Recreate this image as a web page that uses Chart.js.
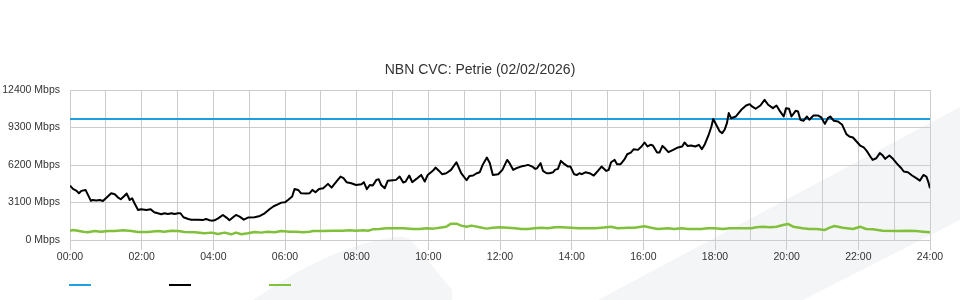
<!DOCTYPE html>
<html>
<head>
<meta charset="utf-8">
<title>NBN CVC: Petrie</title>
<script src="https://cdn.jsdelivr.net/npm/chart.js@4/dist/chart.umd.min.js"></script>
<style>
  html, body { margin: 0; padding: 0; background: #fff; }
  #wrap { position: relative; width: 960px; height: 300px; overflow: hidden; }
  #bg { position: absolute; left: 0; top: 0; }
  #chart { position: absolute; left: 0; top: 0; }
  .key { position: absolute; top: 284px; width: 22px; height: 2px; }
</style>
</head>
<body>
<div id="wrap">
  <svg id="bg" width="960" height="300">
    <path d="M253,300 Q330,246 395,237 Q410,235 416,246 L452,290 L452,300 Z" fill="#f4f5f7"/>
    <polygon points="598,300 960,107 960,220 803,300" fill="#f4f5f7"/>
  </svg>
  <canvas id="chart" width="960" height="300"></canvas>
  <div class="key" style="left:69px;background:#1e9fe0"></div>
  <div class="key" style="left:169px;background:#000"></div>
  <div class="key" style="left:269px;background:#80c03a"></div>
</div>
<script>
// capacidad CVC (Mbps), linea plana
const capTimes = [0, 1440];
const capValues = [10000, 10000];

// trafico de bajada (minutos desde 00:00, Mbps)
const downTimes = [
  0, 5, 11, 15, 19, 26, 35, 38, 44, 50, 55, 61, 69, 75, 80, 85, 90, 95, 100, 104,
  108, 114, 119, 128, 135, 141, 147, 153, 158, 164, 170, 175, 181, 185, 190, 198, 203, 214, 223, 228,
  232, 237, 242, 248, 256, 262, 267, 273, 278, 284, 291, 298, 309, 318, 326, 334, 341, 348, 354,
  360, 365, 372, 376, 382, 387, 396, 401, 406, 411, 417, 424, 432, 438, 446, 453, 458, 463, 471, 479,
  488, 492, 497, 502, 507, 513, 517, 521, 527, 532, 541, 546, 552, 558, 562, 568, 573, 580, 588, 594,
  599, 608, 612, 618, 623, 630, 638, 647, 655, 664, 669, 675, 681, 686, 691, 698, 703, 708, 717, 724,
  732, 736, 742, 747, 755, 761, 767, 774, 779, 782, 788, 792, 798, 803, 809, 812, 817, 822, 828, 834,
  838, 844, 849, 853, 857, 863, 870, 877, 884, 890, 898, 902, 906, 912, 916, 922, 929, 933, 939, 944,
  951, 957, 962, 967, 972, 976, 983, 987, 992, 997, 1002, 1010, 1018, 1025, 1029, 1034, 1040, 1047, 1053, 1058,
  1063, 1069, 1074, 1077, 1088, 1092, 1096, 1100, 1103, 1107, 1115, 1124, 1132, 1138, 1142, 1148, 1156, 1163, 1169, 1177,
  1183, 1189, 1195, 1199, 1204, 1208, 1215, 1219, 1223, 1228, 1234, 1238, 1245, 1252, 1258, 1264, 1269, 1273, 1279, 1286,
  1293, 1300, 1305, 1311, 1317, 1323, 1329, 1334, 1340, 1344, 1350, 1356, 1361, 1365, 1372, 1377, 1385, 1392, 1396, 1403,
  1410, 1417, 1423, 1429, 1434, 1437, 1440
];
const downValues = [
  4500, 4220, 4060, 3860, 4060, 4140, 3230, 3310, 3260, 3310, 3230, 3500, 3860, 3780, 3530, 3370, 3590, 3840, 3310, 3450,
  3040, 2480, 2540, 2480, 2540, 2290, 2210, 2130, 2210, 2150, 2210, 2150, 2210, 2210, 1880, 1740, 1680, 1680, 1660, 1740,
  1660, 1600, 1630, 1790, 2070, 1850, 1630, 1880, 2070, 1930, 1680, 1850, 1880, 1990, 2210, 2540, 2790, 2950, 3090,
  3120, 3310, 3590, 4220, 4140, 3860, 3840, 3860, 4140, 3950, 4220, 4280, 4640, 4330, 4830, 5240, 5110, 4780, 4690, 4550,
  4610, 4780, 4200, 4550, 4500, 4970, 5020, 4550, 4280, 4890, 4940, 4970, 5240, 4750, 4830, 5330, 4780, 5050, 5380, 4830,
  5380, 5740, 5990, 5710, 5440, 5520, 5800, 6430, 5520, 4940, 5300, 5330, 5520, 5600, 6210, 6820, 6350, 5380, 5440, 5800,
  6620, 6350, 5800, 5930, 6070, 6130, 6210, 6070, 5880, 5930, 6350, 5710, 5520, 5520, 5600, 5800, 5880, 6540, 6270, 6070,
  6070, 5440, 5380, 5520, 5440, 5600, 5520, 5330, 5710, 6070, 5710, 5800, 6430, 6620, 6270, 6270, 6710, 7090, 7230, 7510,
  7450, 7730, 8060, 7730, 7870, 7810, 7230, 7230, 7780, 7540, 7260, 7450, 7650, 7730, 8060, 7780, 7810, 7730, 7870, 7510,
  7920, 8640, 9380, 10000, 8970, 8830, 9110, 9660, 10490, 10070, 10210, 10760, 11120, 11230, 11040, 10850, 11120, 11590, 11180, 10900,
  11120, 10630, 10210, 10900, 10850, 10210, 10680, 10630, 9940, 9850, 10210, 9940, 10300, 10300, 10130, 9600, 10070, 10210, 9850, 9800,
  9520, 8750, 8560, 8470, 8140, 7810, 7650, 7370, 6900, 6620, 6760, 7180, 6980, 6710, 6980, 6760, 6290, 5930, 5660, 5600,
  5330, 5110, 4910, 5380, 5240, 4830, 4280
];

// trafico de subida (minutos desde 00:00, Mbps)
const upTimes = [
  0, 5, 13, 22, 30, 41, 52, 64, 75, 89, 103, 114, 131, 147, 158, 170, 181, 192, 209, 225,
  237, 248, 259, 270, 278, 287, 298, 309, 320, 331, 343, 354, 368, 379, 390, 401, 407, 424, 440, 457,
  468, 479, 491, 499, 507, 518, 530, 541, 558, 574, 585, 597, 608, 619, 630, 638, 647, 655, 664, 672,
  686, 697, 708, 719, 733, 745, 756, 767, 778, 789, 800, 812, 823, 839, 851, 867, 878, 890, 906, 917,
  934, 945, 962, 973, 984, 1001, 1012, 1024, 1035, 1046, 1057, 1068, 1080, 1093, 1105, 1127, 1141, 1149, 1160, 1172,
  1183, 1194, 1202, 1211, 1227, 1238, 1250, 1264, 1272, 1280, 1294, 1311, 1323, 1333, 1344, 1361, 1384, 1406, 1417, 1428,
  1440
];
const upValues = [
  770, 830, 770, 690, 635, 745, 690, 745, 745, 800, 745, 660, 660, 745, 690, 770, 745, 660, 635, 550,
  610, 500, 610, 470, 610, 470, 550, 660, 610, 690, 635, 745, 690, 690, 635, 690, 745, 745, 770, 770,
  800, 770, 800, 770, 880, 910, 970, 970, 970, 910, 910, 970, 940, 1020, 1100, 1350, 1350, 1190, 1100, 1190,
  1050, 940, 1020, 1050, 1020, 970, 910, 910, 970, 1020, 970, 1050, 1050, 1020, 970, 970, 970, 1020, 1100, 970,
  1020, 1020, 1130, 1020, 910, 970, 910, 970, 910, 910, 910, 970, 970, 910, 970, 970, 970, 1050, 1100, 1050,
  1100, 1240, 1330, 1100, 970, 910, 910, 830, 1020, 1160, 1020, 910, 1100, 910, 880, 770, 745, 770, 745, 690,
  635
];

// eje Y
const yTicks = [0, 3100, 6200, 9300, 12400];

const FONT = 'Liberation Sans, Arial, Helvetica, sans-serif';
const GRID = '#cccccc';

function puntos(xs, ys) {
  return xs.map((x, i) => ({ x: x, y: ys[i] }));
}

function hora(min) {
  const h = Math.round(min / 60);
  return (h < 10 ? '0' : '') + h + ':00';
}

const ctx = document.getElementById('chart').getContext('2d');

new Chart(ctx, {
  type: 'line',
  data: {
    datasets: [
      {
        label: '',
        data: puntos(capTimes, capValues),
        borderColor: '#1e9fe0',
        borderWidth: 2,
        pointRadius: 0,
        order: 2
      },
      {
        label: '',
        data: puntos(downTimes, downValues),
        borderColor: '#000000',
        borderWidth: 2,
        pointRadius: 0,
        order: 0
      },
      {
        label: '',
        data: puntos(upTimes, upValues),
        borderColor: '#80c03a',
        borderWidth: 2.5,
        pointRadius: 0,
        order: 1
      }
    ]
  },
  options: {
    responsive: false,
    animation: false,
    layout: {
      padding: { left: 0, right: 0, top: 0, bottom: 34 }
    },
    elements: {
      line: { tension: 0, fill: false, borderJoinStyle: 'round' }
    },
    plugins: {
      legend: { display: false },
      tooltip: { enabled: false },
      title: {
        display: true,
        text: 'NBN CVC: Petrie (02/02/2026)',
        color: '#333',
        font: { family: FONT, size: 14, weight: 'normal' },
        padding: { top: 61.6, bottom: 11.6 }
      }
    },
    scales: {
      x: {
        type: 'linear',
        min: 0,
        max: 1440,
        afterFit: (scale) => { scale.height = 26; },
        grid: {
          color: GRID,
          tickLength: 10,
          tickColor: (c) => (c.tick && c.tick.value % 120 === 0) ? GRID : 'rgba(0,0,0,0)'
        },
        border: { color: GRID },
        ticks: {
          stepSize: 60,
          autoSkip: false,
          maxRotation: 0,
          padding: 1,
          color: '#333',
          font: { family: FONT, size: 10.5 },
          callback: (v) => v % 120 === 0 ? hora(v) : ''
        }
      },
      y: {
        min: yTicks[0],
        max: yTicks[yTicks.length - 1],
        afterFit: (scale) => { scale.width = 70; },
        afterBuildTicks: (scale) => { scale.ticks = yTicks.map(v => ({ value: v })); },
        grid: { color: GRID, drawTicks: false },
        border: { color: GRID },
        ticks: {
          padding: 10,
          color: '#333',
          font: { family: FONT, size: 10.5 },
          callback: (v) => v + ' Mbps'
        }
      },
      // margen derecho vacio, para que el titulo quede centrado en el lienzo
      yRight: {
        position: 'right',
        afterFit: (scale) => { scale.width = 30; },
        grid: { display: false, drawTicks: false },
        border: { display: false },
        ticks: { display: false }
      }
    }
  }
});
</script>
</body>
</html>
